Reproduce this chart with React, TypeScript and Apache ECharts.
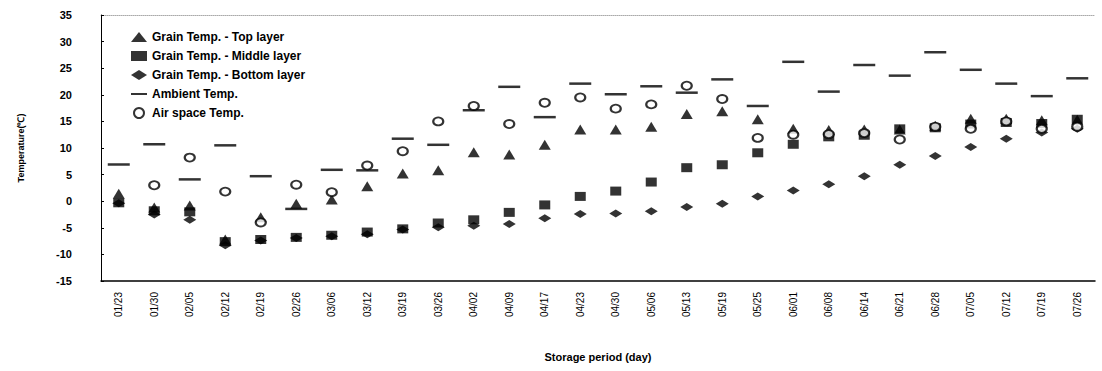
import React, { useEffect, useRef } from "react";
import * as echarts from "echarts";

const categories = ["01/23","01/30","02/05","02/12","02/19","02/26","03/06","03/12","03/19","03/26","04/02","04/09","04/17","04/23","04/30","05/06","05/13","05/19","05/25","06/01","06/08","06/14","06/21","06/28","07/05","07/12","07/19","07/26"];

const topLayer = [1.4,-1.2,-0.8,-7.2,-3.0,-0.5,0.3,2.8,5.2,5.8,9.2,8.8,10.6,13.5,13.5,14.0,16.4,16.9,15.4,13.6,13.4,13.5,13.5,14.2,15.5,15.5,15.2,15.3];
const middleLayer = [-0.3,-1.8,-2.0,-7.6,-7.2,-6.8,-6.4,-5.8,-5.2,-4.1,-3.5,-2.1,-0.7,0.9,1.9,3.6,6.3,6.85,9.1,10.7,12.1,12.4,13.6,13.8,14.5,14.8,14.6,15.4];
const bottomLayer = [-0.4,-2.5,-3.5,-8.3,-7.4,-6.9,-6.6,-6.2,-5.3,-4.9,-4.6,-4.3,-3.2,-2.4,-2.3,-1.9,-1.1,-0.5,0.9,2.0,3.2,4.7,6.85,8.5,10.2,11.75,12.9,13.6];
const ambient = [6.9,10.7,4.1,10.5,4.7,-1.45,5.9,5.8,11.75,10.6,17.1,21.5,15.8,22.1,20.1,21.6,20.4,22.9,17.9,26.2,20.6,25.6,23.6,28.0,24.7,22.1,19.75,23.1];
const airSpace = [null,3.0,8.2,1.8,-4.0,3.1,1.7,6.7,9.4,15.0,17.9,14.5,18.5,19.5,17.4,18.2,21.7,19.2,11.9,12.5,12.6,12.8,11.6,14.0,13.6,15.0,13.6,14.0];

const yMin = -15;
const yMax = 35;
const yStep = 5;

const seriesNames = [
  "Grain Temp. - Top layer",
  "Grain Temp. - Middle layer",
  "Grain Temp. - Bottom layer",
  "Ambient Temp.",
  "Air space Temp.",
];

export default function App() {
  const ref = useRef<HTMLDivElement>(null);
  useEffect(() => {
    document.body.style.margin = "0";
    if (!ref.current) return;
    const chart = echarts.init(ref.current, null, { renderer: "svg" });
    const font = "Liberation Sans, Arial, sans-serif";
    chart.setOption({
      animation: false,
      backgroundColor: "#fff",
      grid: { left: 101, right: 7, top: 15, bottom: 90, containLabel: false },
      legend: {
        orient: "vertical",
        left: 126,
        top: 26,
        itemGap: 7,
        itemWidth: 16,
        itemHeight: 10,
        textStyle: { fontFamily: font, fontSize: 12, fontWeight: "bold", color: "#000" },
        data: [
          { name: seriesNames[0], icon: "triangle" },
          { name: seriesNames[1], icon: "rect" },
          { name: seriesNames[2], icon: "diamond" },
          { name: seriesNames[3], icon: "path://M0,4H16V6H0Z" },
          { name: seriesNames[4], icon: "emptyCircle" },
        ],
      },
      xAxis: [
        {
          type: "category",
          data: categories,
          boundaryGap: true,
          axisLine: { show: true, onZero: false, lineStyle: { color: "#000", width: 1.5 } },
          axisTick: { show: false },
          axisLabel: { rotate: 90, fontFamily: font, fontSize: 10, color: "#000", margin: 11 },
          name: "Storage period (day)",
          nameLocation: "middle",
          nameGap: 70,
          nameTextStyle: { fontFamily: font, fontSize: 11, fontWeight: "bold", color: "#000" },
        },
        {
          type: "category",
          data: categories,
          position: "top",
          axisLine: { show: true, onZero: false, lineStyle: { color: "#aaa", width: 1, type: "dotted" } },
          axisTick: { show: false },
          axisLabel: { show: false },
        },
      ],
      yAxis: {
        type: "value",
        min: yMin,
        max: yMax,
        interval: yStep,
        axisLine: { show: true, onZero: false, lineStyle: { color: "#000", width: 1 } },
        axisTick: { show: true, inside: true, length: 3, lineStyle: { color: "#000" } },
        splitLine: { show: false },
        axisLabel: { fontFamily: font, fontSize: 11, fontWeight: "bold", color: "#000", margin: 29 },
        name: "Temperature(℃)",
        nameLocation: "middle",
        nameGap: 76,
        nameTextStyle: { fontFamily: font, fontSize: 9, fontWeight: "bold", color: "#000" },
      },
      series: [
        { name: seriesNames[0], type: "scatter", data: topLayer, symbol: "triangle", symbolSize: [12, 10], itemStyle: { color: "#000" } },
        { name: seriesNames[1], type: "scatter", data: middleLayer, symbol: "rect", symbolSize: [11, 9], itemStyle: { color: "#000" } },
        { name: seriesNames[2], type: "scatter", data: bottomLayer, symbol: "diamond", symbolSize: [13, 8], itemStyle: { color: "#000" } },
        { name: seriesNames[3], type: "scatter", data: ambient, symbol: "rect", symbolSize: [22, 2.5], itemStyle: { color: "#000" } },
        { name: seriesNames[4], type: "scatter", data: airSpace, symbol: "emptyCircle", symbolSize: [10, 8], itemStyle: { color: "#000", borderColor: "#000", borderWidth: 1.3 } },
      ],
    });
    return () => chart.dispose();
  }, []);
  return <div ref={ref} style={{ width: 1102, height: 371 }} />;
}
